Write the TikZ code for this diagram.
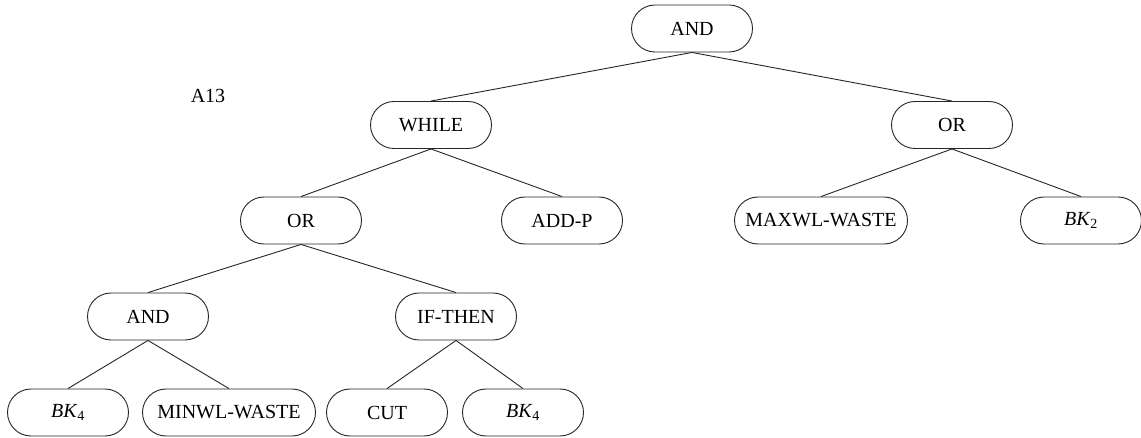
\documentclass[tikz,border=0pt]{standalone}
\usepackage{fontspec}
\setmainfont{Liberation Serif}

\begin{document}
\begin{tikzpicture}[
    x=1pt, y=-1pt,
    font=\fontsize{20}{24}\selectfont,
    every node/.style={align=center},
    opbox/.style={rectangle, draw=black!85, fill=white, rounded corners=23.5pt, line width=0.9pt, inner sep=2pt, minimum width=121pt, minimum height=47pt},
    widebox/.style={opbox, minimum width=173pt},
    link/.style={draw=black!85, line width=0.9pt}
  ]
    \useasboundingbox (0,0) rectangle (1141,438);

    % Root
    \node[opbox] (root) at (692,28.5) {AND};

    % Level 1
    \node[opbox] (while) at (431,125) {WHILE};
    \node[opbox] (orright) at (952,125) {OR};

    % Level 2
    \node[opbox] (orleft) at (301,220.5) {OR};
    \node[opbox] (addp) at (562,220.5) {ADD-P};
    \node[widebox] (maxwl) at (821,220.5) {MAXWL-WASTE};
    \node[opbox] (bktwo) at (1081,220.5) {\textit{BK}\textsubscript{2}};

    % Level 3
    \node[opbox] (andlow) at (148,316.5) {AND};
    \node[opbox] (ifthen) at (456,316.5) {IF-THEN};

    % Level 4
    \node[opbox] (bkfoura) at (68,412.5) {\textit{BK}\textsubscript{4}};
    \node[widebox] (minwl) at (229,412.5) {MINWL-WASTE};
    \node[opbox] (cut) at (387,412.5) {CUT};
    \node[opbox] (bkfourb) at (523,412.5) {\textit{BK}\textsubscript{4}};

    % Label
    \node (label) at (208,96) {A13};

    % Connections
    \draw[link] (root.south) -- (while.north);
    \draw[link] (root.south) -- (orright.north);
    \draw[link] (while.south) -- (orleft.north);
    \draw[link] (while.south) -- (addp.north);
    \draw[link] (orright.south) -- (maxwl.north);
    \draw[link] (orright.south) -- (bktwo.north);
    \draw[link] (orleft.south) -- (andlow.north);
    \draw[link] (orleft.south) -- (ifthen.north);
    \draw[link] (andlow.south) -- (bkfoura.north);
    \draw[link] (andlow.south) -- (minwl.north);
    \draw[link] (ifthen.south) -- (cut.north);
    \draw[link] (ifthen.south) -- (bkfourb.north);
  \end{tikzpicture}
\end{document}
